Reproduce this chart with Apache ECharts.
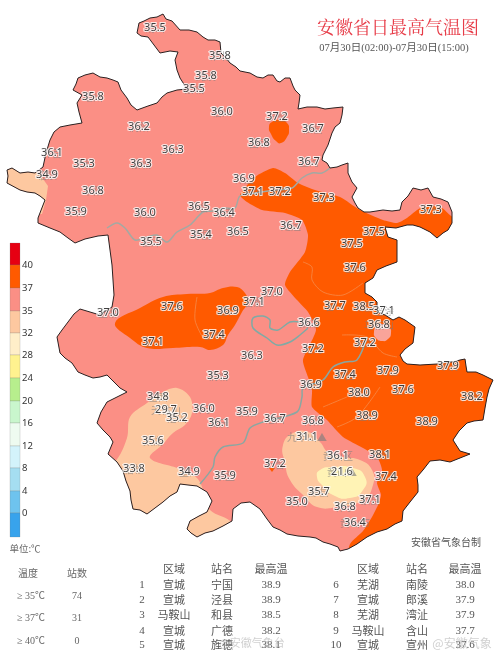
<!DOCTYPE html>
<html><head><meta charset="utf-8">
<style>html,body{margin:0;padding:0;background:#fff}#c{width:500px;height:654px}</style>
<script src="https://cdn.jsdelivr.net/npm/echarts@6/dist/echarts.min.js"></script></head>
<body><div id="c"></div>
<script>
const provinceOutline=[[139,23],[144,21],[150,18],[157,17],[163,14],[166,19],[172,21],[180,30],[189,30],[197,32],[203,37],[208,40],[215,40],[220,42],[221,53],[226,58],[230,63],[236,67],[240,71],[250,73],[257,77],[263,78],[268,75],[273,75],[277,81],[280,82],[285,78],[290,78],[293,86],[295,90],[300,95],[299,103],[298,109],[307,107],[317,107],[325,109],[333,108],[343,107],[342,115],[340,123],[335,127],[332,133],[328,145],[323,155],[322,160],[327,163],[330,168],[337,167],[342,165],[348,163],[348,173],[352,182],[357,188],[352,197],[355,203],[358,208],[364,212],[370,212],[383,210],[392,211],[400,210],[402,202],[408,196],[413,188],[421,190],[428,188],[433,197],[441,199],[448,202],[452,212],[452,223],[448,230],[443,233],[437,238],[430,232],[420,227],[413,225],[407,225],[396,228],[385,227],[388,237],[397,240],[397,252],[397,262],[386,266],[377,270],[373,278],[365,283],[365,293],[372,297],[377,302],[377,312],[385,315],[393,320],[399,317],[405,320],[415,327],[414,335],[413,343],[405,349],[400,355],[403,361],[407,364],[420,365],[437,364],[445,362],[453,362],[460,360],[465,359],[466,366],[467,372],[476,372],[483,375],[493,380],[489,389],[487,397],[485,408],[483,420],[474,421],[467,423],[459,431],[453,440],[460,451],[470,454],[460,458],[450,462],[440,460],[430,461],[423,470],[417,477],[418,485],[418,492],[410,502],[403,511],[402,521],[395,524],[387,529],[377,532],[367,537],[357,544],[348,549],[340,551],[338,547],[330,544],[323,542],[316,538],[310,537],[298,536],[287,534],[280,530],[273,527],[267,519],[260,509],[250,502],[241,503],[233,509],[232,521],[223,526],[213,531],[205,533],[197,537],[191,533],[187,529],[190,521],[199,516],[207,512],[212,501],[207,492],[197,486],[188,485],[180,484],[177,492],[170,496],[163,502],[155,508],[147,514],[140,510],[133,509],[131,500],[130,491],[126,481],[123,471],[117,462],[108,454],[113,442],[110,437],[103,430],[97,423],[101,412],[107,402],[117,397],[127,392],[120,388],[115,383],[107,375],[100,377],[93,378],[85,375],[78,372],[72,363],[65,358],[60,353],[57,337],[62,330],[68,322],[74,314],[80,309],[90,312],[100,315],[107,310],[112,307],[114,295],[113,280],[112,265],[110,250],[108,235],[98,236],[85,239],[75,243],[68,238],[60,232],[50,228],[38,223],[38,218],[45,200],[40,196],[35,193],[27,192],[20,190],[7,183],[8,176],[7,170],[12,168],[20,173],[28,172],[35,173],[43,167],[46,153],[50,140],[54,132],[60,127],[70,125],[82,123],[79,112],[77,103],[82,95],[73,90],[76,84],[78,78],[85,75],[93,73],[100,77],[107,78],[113,80],[118,82],[121,90],[127,98],[131,105],[137,110],[148,106],[157,103],[162,97],[167,93],[177,90],[187,89],[180,78],[177,70],[175,60],[178,52],[170,51],[160,53],[154,45],[148,37],[141,36],[137,33]];
const peachWest=[[30,160],[38,172],[48,186],[46,200],[42,214],[0,214],[0,160]];
const peachSouth=[[127,438],[130,417],[147,403],[163,392],[177,388],[190,397],[192,413],[185,425],[173,433],[163,444],[150,458],[180,469],[197,478],[205,495],[210,510],[232,523],[235,545],[100,545],[100,470],[115,462]];
const peachHuangshan=[[293,433],[283,445],[285,463],[290,480],[305,497],[317,507],[337,507],[363,500],[373,485],[372,470],[360,460],[343,457],[328,452],[320,442],[308,432]];
const paleCore=[[320,470],[333,467],[353,468],[365,477],[363,490],[350,498],[333,495],[322,485],[317,477]];
const hotMain=[[240,195],[255,177],[273,168],[285,173],[298,183],[315,190],[340,197],[360,210],[383,220],[397,223],[407,218],[417,210],[427,205],[442,208],[453,217],[490,220],[510,400],[510,450],[480,560],[349,560],[350,544],[363,531],[372,517],[378,505],[381,495],[377,483],[382,470],[377,457],[363,448],[343,437],[327,420],[312,407],[312,390],[308,377],[303,360],[316,330],[308,312],[297,300],[285,285],[290,272],[305,252],[308,235],[302,220],[285,213],[262,210],[247,202]];
const hotCentral=[[115,323],[140,308],[163,297],[187,294],[210,293],[223,288],[237,287],[245,293],[248,302],[242,312],[235,325],[228,335],[223,345],[210,350],[200,347],[173,348],[147,348],[130,338]];
const hotNorth=[[272,122],[280,120],[287,123],[289,130],[287,137],[281,143],[276,141],[271,134],[269,127]];
const coolSpot=[[383,324],[389,327],[391,333],[388,339],[382,341],[376,338],[374,332],[377,326]];
const hotDot=[[269,468],[275,468],[272,472]];
const riverHuai=[[107,228],[117,223],[125,228],[135,240],[147,237],[157,235],[167,242],[177,232],[190,225],[203,212],[213,211],[224,208],[235,208],[240,196],[256,193],[275,190],[292,188],[302,178],[312,173],[322,173],[330,168]];
const riverYangtze=[[200,484],[213,467],[215,457],[223,447],[243,443],[250,428],[263,422],[297,412],[302,397],[303,388],[323,380],[333,367],[345,362],[357,360],[367,337]];
const riverChao=[[300,322],[290,322],[278,330],[270,328],[270,320],[263,316],[253,318],[253,328],[267,338],[277,345],[290,342],[300,335],[308,328]];
const faintLines=[[[303,262],[312,267],[312,280],[323,292],[343,295],[363,283]],[[342,335],[367,337],[383,353],[397,357]],[[323,407],[347,397]],[[337,427],[357,417],[380,387]],[[197,297],[195,320],[203,338]]];

const stationValues=["35.5","35.8","35.8","35.5","36.0","37.2","36.7","35.8","36.2","36.8","36.3","36.1","34.9","35.3","36.3","36.8","35.9","36.0","36.5","36.4","36.9","37.1","37.2","36.7","37.3","37.3","35.5","35.4","36.5","36.7","37.5","37.5","37.6","37.0","37.6","36.9","37.1","37.0","37.4","37.1","36.3","35.3","36.6","37.2","37.7","38.5","37.1","36.8","37.2","37.4","37.9","37.9","38.2","37.6","38.0","38.9","38.9","36.9","36.8","36.7","35.9","36.1","36.0","34.8","29.7","35.2","35.6","33.8","34.9","35.9","37.2","31.1","36.1","21.6","38.1","37.4","35.7","35.0","37.1","36.8","36.4"];
const stationNames=["砀山","淮北","濉溪","蒙城","宿州","灵璧","泗县","亳州","涡阳","固镇","利辛","界首","临泉","太和","蒙城","阜阳","阜南","颍上","凤台","淮南","怀远","蚌埠","凤阳","五河","明光","天长","霍邱","寿县","长丰","定远","来安","滁州","全椒","金寨","六安","肥西","合肥","肥东","舒城","霍山","庐江","桐城","巢湖","无为","含山","和县","当涂","马鞍山","芜湖","繁昌","湾沚","郎溪","广德","宣州","南陵","泾县","宁国","铜陵","青阳","池州","枞阳","安庆","怀宁","岳西","天柱山","潜山","太湖","宿松","望江","东至","石台","九华山▲","黄山区","黄山▲","旌德","绩溪","黟县","祁门","歙县","休宁","黄山市"];
const stationX=[155,220,206,194,222,277,313,93,139,259,173,52,47,84,141,93,76,145,199,224,244,253,280,309,324,431,151,201,238,291,374,352,355,108,172,228,254,272,214,153,252,218,309,313,335,364,384,379,365,345,388,448,472,403,359,367,427,311,313,275,247,219,204,158,166,177,153,134,189,225,275,307,338,342,380,386,319,297,370,345,355];
const stationY=[28,56,76,89,112,117,129,97,127,143,150,153,175,164,164,191,212,213,207,213,179,192,192,162,198,210,242,235,232,226,232,244,268,313,307,311,302,292,335,342,356,376,323,349,306,307,311,325,343,375,371,366,397,390,393,416,422,385,421,419,412,423,409,397,410,418,441,469,472,476,464,437,456,472,455,477,492,502,500,507,523];

const legendColors=["#e60012","#ff5a00","#fb8f85","#fdc8a0","#ffeec9","#fff28f","#b7ee8d","#c9f6cd","#eefbf0","#d3f3fb","#a5def1","#6ec3ee","#38a3ec"];
const legendEdges=[243,265,288,311,333,355,378,401,423,446,468,491,513,537];
const legendTicks=["40","37","35","32","28","24","20","16","12","8","4","0"];
const countLabels=["≥ 35℃","≥ 37℃","≥ 40℃"];
const countValues=["74","31","0"];
const rankLeft=[["1","宣城","宁国","38.9"],["2","宣城","泾县","38.9"],["3","马鞍山","和县","38.5"],["4","宣城","广德","38.2"],["5","宣城","旌德","38.1"]];
const rankRight=[["6","芜湖","南陵","38.0"],["7","宣城","郎溪","37.9"],["8","芜湖","湾沚","37.9"],["9","马鞍山","含山","37.7"],["10","宣城","宣州","37.6"]];

const COL={hot:"#ff5a00",warm:"#fb8f85",peach:"#fdc8a0",pale:"#fff3b5"};
const fills=[
 {pts:peachWest,fill:COL.peach,smooth:0},
 {pts:peachSouth,fill:COL.peach,smooth:0.35},
 {pts:peachHuangshan,fill:COL.peach,smooth:0.5},
 {pts:paleCore,fill:COL.pale,smooth:0.6},
 {pts:hotMain,fill:COL.hot,smooth:0.2},
 {pts:hotCentral,fill:COL.hot,smooth:0.4},
 {pts:hotNorth,fill:COL.hot,smooth:0.6},
 {pts:coolSpot,fill:"#f9a49a",smooth:0.6},
 {pts:hotDot,fill:COL.hot,smooth:0}
];
const rivers=[{pts:riverHuai,c:"#a3a9a3"},{pts:riverYangtze,c:"#8aa7a2"},{pts:riverChao,c:"#7faaa5"}];
const project=(api,pts)=>pts.map(p=>api.coord(p));
const serif='"Liberation Serif","Noto Sans CJK SC",serif';
const sans='"Noto Sans","Noto Sans CJK SC",sans-serif';
const graphics=[];
function txt(x,y,t,o){graphics.push({type:'text',silent:true,x:x,y:y,z:o&&o.z||5,style:Object.assign({text:t,fill:'#555',font:'11px '+serif,textAlign:'center',textVerticalAlign:'middle'},o||{})});}
txt(398,27,"安徽省日最高气温图",{fill:'#e6323e',font:'18px "Noto Serif CJK SC","Noto Sans CJK SC",serif',opacity:.95});
txt(394,48,"07月30日(02:00)-07月30日(15:00)",{fill:'#555',font:'10.5px '+serif});
txt(446,542,"安徽省气象台制",{fill:'#555',font:'10px "Noto Sans CJK SC"'});
txt(25,548,"单位:℃",{fill:'#666',font:'9.5px "Noto Sans CJK SC"'});
txt(28,573,"温度",{font:'10px "Noto Sans CJK SC"',fill:'#666'});
txt(77,573,"站数",{font:'10px "Noto Sans CJK SC"',fill:'#666'});
const countY=[596,618,641];
countLabels.forEach((t,i)=>{txt(31,countY[i],t,{font:'10px '+serif,fill:'#666'});txt(77,countY[i],countValues[i],{font:'10px '+serif,fill:'#666'});});
const headY=569,rowY=[585,600,615,631,645];
const colL=[142,174,222,271],colR=[336,368,417,465];
[colL,colR].forEach(col=>{txt(col[1],headY,"区域",{font:'11px "Noto Sans CJK SC"'});txt(col[2],headY,"站名",{font:'11px "Noto Sans CJK SC"'});txt(col[3],headY,"最高温",{font:'11px "Noto Sans CJK SC"'});});
[[rankLeft,colL],[rankRight,colR]].forEach(([rows,col])=>rows.forEach((r,i)=>r.forEach((v,j)=>txt(col[j],rowY[i],v,{font:(j==1||j==2?'11px "Noto Sans CJK SC"':'11px '+serif),fill:'#555'}))));
txt(252,643,"@安徽气象台",{font:'11px "Noto Sans CJK SC"',fill:'rgba(170,170,170,.55)',z:6});
txt(462,643,"@安徽气象",{font:'12px "Noto Sans CJK SC"',fill:'rgba(170,170,170,.55)',z:6});
legendTicks.forEach((t,i)=>txt(22,legendEdges[i+1],t,{textAlign:'left',font:'9.5px '+sans,fill:'#333'}));

const chart=echarts.init(document.getElementById('c'),null,{renderer:'canvas'});
chart.setOption({
 animation:false,
 grid:{left:0,right:0,top:0,bottom:0},
 xAxis:{type:'value',min:0,max:500,show:false},
 yAxis:{type:'value',min:0,max:654,inverse:true,show:false},
 graphic:{elements:graphics},
 series:[
  {type:'custom',coordinateSystem:'cartesian2d',clip:false,z:1,data:[[0,0]],
   renderItem:(p,api)=>({type:'polygon',shape:{points:project(api,provinceOutline)},style:{fill:COL.warm}})},
  {type:'custom',coordinateSystem:'cartesian2d',clip:false,z:2,data:fills.map((f,i)=>[i,0]),
   renderItem:(p,api)=>{const f=fills[p.dataIndex];return {type:'polygon',shape:{points:project(api,f.pts),smooth:f.smooth},style:{fill:f.fill},
     clipPath:{type:'polygon',shape:{points:project(api,provinceOutline)}}};}},
  {type:'custom',coordinateSystem:'cartesian2d',clip:false,z:3,data:faintLines.map((f,i)=>[i,0]),
   renderItem:(p,api)=>({type:'polyline',shape:{points:project(api,faintLines[p.dataIndex]),smooth:0.3},style:{fill:'none',stroke:'#f58a4a',lineWidth:0.8}})},
  {type:'custom',coordinateSystem:'cartesian2d',clip:false,z:3,data:rivers.map((f,i)=>[i,0]),
   renderItem:(p,api)=>({type:'polyline',shape:{points:project(api,rivers[p.dataIndex].pts),smooth:0.3},style:{fill:'none',stroke:rivers[p.dataIndex].c,lineWidth:1.5}})},
  {type:'custom',coordinateSystem:'cartesian2d',clip:false,z:4,data:[[0,0]],
   renderItem:(p,api)=>({type:'polygon',shape:{points:project(api,provinceOutline)},style:{fill:'none',stroke:'#2a2020',lineWidth:1}})},
  {type:'custom',coordinateSystem:'cartesian2d',clip:false,z:4,data:legendColors.map((c,i)=>[i,0]),
   renderItem:(p,api)=>{const i=p.dataIndex,a=api.coord([10,legendEdges[i]]),b=api.coord([20,legendEdges[i+1]]);
     return {type:'rect',shape:{x:a[0],y:a[1],width:b[0]-a[0],height:b[1]-a[1]},style:{fill:legendColors[i],stroke:'rgba(120,120,120,.45)',lineWidth:.5}};}},
  {type:'scatter',z:6,symbolSize:0,silent:true,data:stationX.map((x,i)=>[x,stationY[i]]),
   label:{show:true,position:'inside',offset:[0,11],formatter:p=>stationNames[p.dataIndex],fontSize:10,fontFamily:'"Noto Sans CJK SC"',color:'rgba(125,125,125,.8)'},labelLayout:{hideOverlap:false}},
  {type:'scatter',z:7,symbolSize:0,silent:true,data:stationX.map((x,i)=>[x,stationY[i]]),
   label:{show:true,position:'inside',formatter:p=>stationValues[p.dataIndex],fontSize:11,fontFamily:'"Noto Sans",sans-serif',color:'#111',textBorderColor:'#fff',textBorderWidth:2.2},labelLayout:{hideOverlap:false}}
 ]
});
</script></body></html>
